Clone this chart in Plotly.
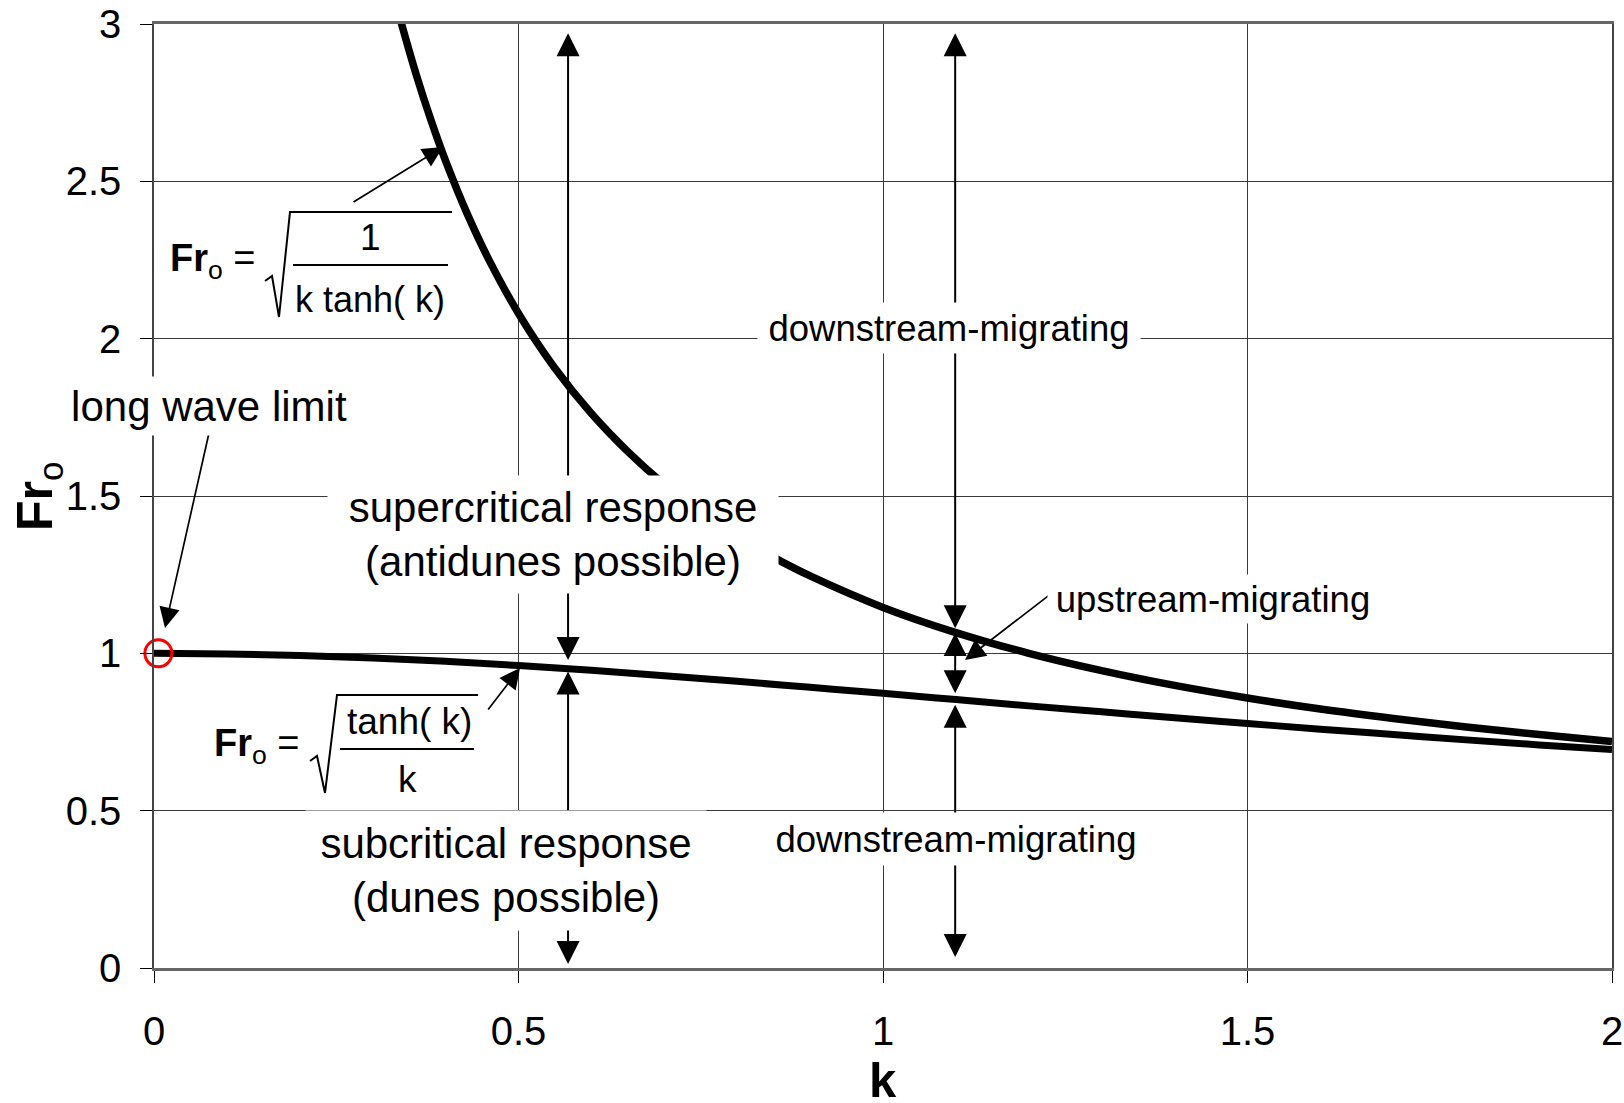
import plotly.graph_objects as go

# ---------------- data ----------------
k_upper = [0.335, 0.34, 0.36, 0.38, 0.40, 0.43, 0.46, 0.50, 0.55, 0.60, 0.65, 0.70,
           0.75, 0.80, 0.85, 0.90, 1.0, 1.1, 1.2, 1.3, 1.4, 1.5, 1.6, 1.7, 1.8, 1.9, 2.0]
fr_upper = [3.040, 2.997, 2.837, 2.694, 2.565, 2.395, 2.248, 2.080, 1.906, 1.762, 1.641, 1.537,
            1.449, 1.372, 1.305, 1.246, 1.146, 1.066, 1.000, 0.945, 0.898, 0.858, 0.823, 0.793,
            0.766, 0.742, 0.720]

k_lower = [0.0, 0.1, 0.2, 0.3, 0.4, 0.5, 0.6, 0.7, 0.8, 0.9, 1.0, 1.1, 1.2, 1.3, 1.4,
           1.5, 1.6, 1.7, 1.8, 1.9, 2.0]
fr_lower = [1.000, 0.998, 0.993, 0.985, 0.975, 0.961, 0.946, 0.929, 0.911, 0.892, 0.873,
            0.853, 0.833, 0.814, 0.795, 0.777, 0.759, 0.742, 0.725, 0.709, 0.694]

limit_k = [0.006]
limit_fr = [1.0]

# double-headed arrows: (k, Fr_top, Fr_bottom)
arrow_k = [0.568, 0.568, 1.099, 1.099, 1.099]
arrow_top = [2.975, 0.947, 2.975, 1.069, 0.841]
arrow_bot = [0.979, 0.013, 1.080, 0.873, 0.035]

x_ticks = [0, 0.5, 1, 1.5, 2]
x_ticklabels = ["0", "0.5", "1", "1.5", "2"]
y_ticks = [0, 0.5, 1, 1.5, 2, 2.5, 3]
y_ticklabels = ["0", "0.5", "1", "1.5", "2", "2.5", "3"]

# ---------------- layout helpers ----------------
W, H = 1624, 1103
L, R, T, B = 154, 1612, 24, 968
FONT = "Liberation Sans, Arial, sans-serif"


def X(px):
    return (px - L) / (R - L) * 2.0


def Y(py):
    return (B - py) / (B - T) * 3.0


def PX(px):
    return (px - L) / (R - L)


def PY(py):
    return (B - py) / (B - T)


fig = go.Figure()

fig.add_trace(go.Scatter(x=k_upper, y=fr_upper, mode="lines", line_shape="spline",
                         line=dict(color="black", width=7.5), hoverinfo="skip"))
fig.add_trace(go.Scatter(x=k_lower, y=fr_lower, mode="lines", line_shape="spline",
                         line=dict(color="black", width=7), hoverinfo="skip"))
fig.add_trace(go.Scatter(x=limit_k, y=limit_fr, mode="markers", cliponaxis=False,
                         marker=dict(symbol="circle-open", size=27, color="#ff0000",
                                     line=dict(color="#ff0000", width=3)),
                         hoverinfo="skip"))

annotations = []

# vertical double arrows
for kk, top, bot in zip(arrow_k, arrow_top, arrow_bot):
    annotations.append(dict(x=kk, y=bot, ax=kk, ay=top, xref="x", yref="y", axref="x", ayref="y",
                            text="", showarrow=True, arrowhead=2, arrowsize=2.3, arrowwidth=2,
                            arrowside="end+start", startarrowhead=2, startarrowsize=2.3,
                            arrowcolor="black", standoff=0, startstandoff=0))

# pointer arrows (tail px, head px)
pointers = [((352, 203), (443, 147)),
            ((487, 711), (520, 668)),
            ((209, 433), (165, 628)),
            ((1052, 593), (965, 660))]
for (tx, ty), (hx, hy) in pointers:
    annotations.append(dict(x=X(hx), y=Y(hy), ax=X(tx), ay=Y(ty), xref="x", yref="y",
                            axref="x", ayref="y", text="", showarrow=True, arrowhead=2,
                            arrowsize=2.4, arrowwidth=1.7, arrowcolor="black", standoff=0))

# text boxes with white background
boxes = [
    ("downstream-migrating", 949, 328, 36.5, 382, 50),
    ("upstream-migrating", 1213, 599, 36.5, 330, 48),
    ("downstream-migrating", 956, 839, 36.5, 382, 52),
    ("subcritical response<br>(dunes possible)", 506, 870, 42, 400, 119),
    ("supercritical response<br>(antidunes possible)", 553, 534, 42, 450, 117),
    ("long wave limit", 209, 406, 42, 290, 58),
]
for txt, cx, cy, fs, bw, bh in boxes:
    annotations.append(dict(x=X(cx), y=Y(cy), xref="x", yref="y", text=txt, showarrow=False,
                            font=dict(family=FONT, size=fs, color="black"), bgcolor="white",
                            width=bw, height=bh, borderpad=0, align="center",
                            xanchor="center", yanchor="middle"))

# formula texts
formula_texts = [
    ("<b>Fr</b><sub>o</sub> =", 168, 261, 38, "left"),
    ("1", 370, 237, 37, "center"),
    ("k tanh( k)", 370, 299, 36, "center"),
    ("<b>Fr</b><sub>o</sub> =", 212, 746, 38, "left"),
    ("tanh( k)", 409, 721, 37, "center"),
    ("k", 407, 779, 37, "center"),
]
for txt, px, py, fs, anc in formula_texts:
    annotations.append(dict(x=X(px), y=Y(py), xref="x", yref="y", text=txt, showarrow=False,
                            font=dict(family=FONT, size=fs, color="black"),
                            xanchor=anc, yanchor="middle"))

# axis titles (paper coordinates, outside the plot area)
annotations.append(dict(x=PX(883), y=PY(1080), xref="paper", yref="paper", text="<b>k</b>",
                        showarrow=False, font=dict(family=FONT, size=49, color="black"),
                        xanchor="center", yanchor="middle"))
annotations.append(dict(x=PX(38), y=PY(497), xref="paper", yref="paper",
                        text="<b>Fr</b><sub>o</sub>", showarrow=False, textangle=-90,
                        font=dict(family=FONT, size=50, color="black"),
                        xanchor="center", yanchor="middle"))


# radical signs and fraction bars
def path(pts):
    return "M " + " L ".join(f"{X(a)},{Y(b)}" for a, b in pts)


shapes = [
    dict(type="path", path=path([(265, 281), (272, 276), (279, 317), (290, 212), (452, 212)]),
         xref="x", yref="y", line=dict(color="black", width=2), layer="above"),
    dict(type="line", x0=X(293), x1=X(448), y0=Y(265), y1=Y(265), xref="x", yref="y",
         line=dict(color="black", width=2), layer="above"),
    dict(type="path", path=path([(310, 761), (317, 756), (325, 793), (337, 695), (478, 695)]),
         xref="x", yref="y", line=dict(color="black", width=2), layer="above"),
    dict(type="line", x0=X(340), x1=X(474), y0=Y(749), y1=Y(749), xref="x", yref="y",
         line=dict(color="black", width=2), layer="above"),
]

axis_common = dict(showgrid=True, gridcolor="#3a3a3a", gridwidth=1, zeroline=False,
                   ticks="outside", ticklen=12, tickwidth=1, tickcolor="black",
                   tickfont=dict(family=FONT, size=40, color="black"), mirror=True,
                   showline=True, automargin=False)

fig.update_layout(
    width=W, height=H,
    margin=dict(l=L, r=W - R, t=T, b=H - B),
    paper_bgcolor="white", plot_bgcolor="white",
    showlegend=False,
    font=dict(family=FONT, color="black"),
    xaxis=dict(range=[0, 2], tickvals=x_ticks, ticktext=x_ticklabels,
               linecolor="#666", linewidth=2.5, ticklabelstandoff=14, **axis_common),
    yaxis=dict(range=[0, 3], tickvals=y_ticks, ticktext=y_ticklabels,
               linecolor="#444", linewidth=1.5, ticklabelstandoff=11, **axis_common),
    annotations=annotations,
    shapes=shapes,
)

fig.write_html("out.html", config={"displayModeBar": False},
               post_script="document.body.style.margin='0';document.body.style.overflow='hidden';")
